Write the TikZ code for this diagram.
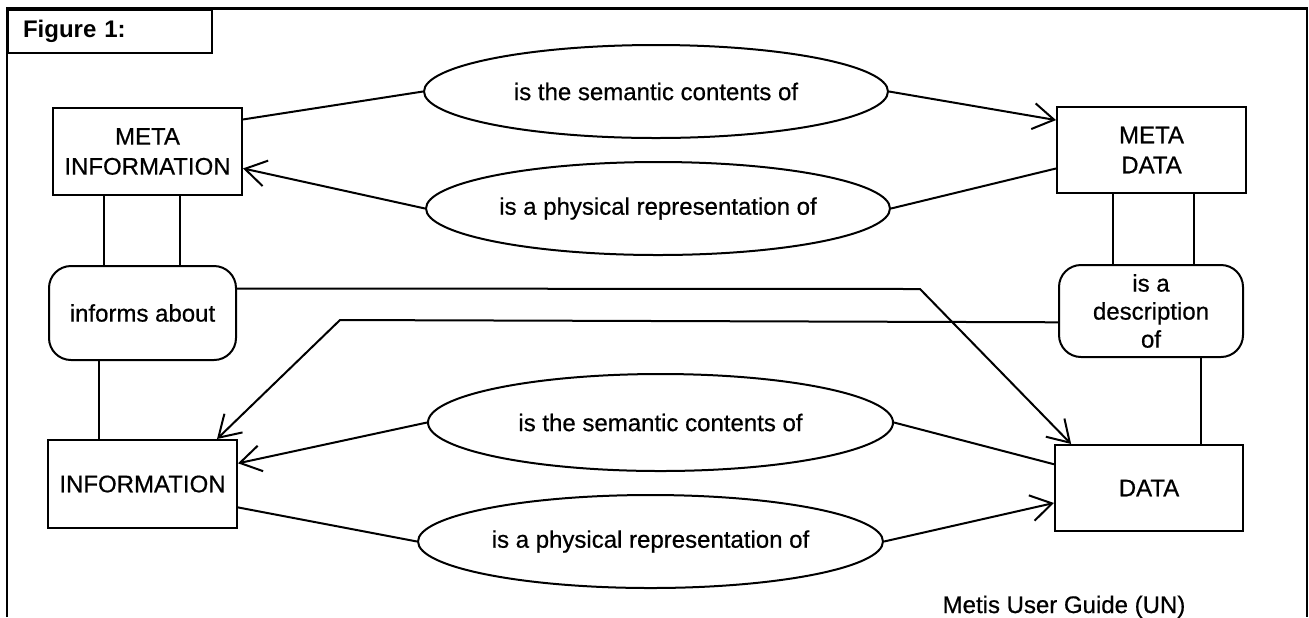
\documentclass[tikz,border=0pt]{standalone}
\usepackage{fontspec}
\setmainfont{Liberation Sans}[UprightFeatures={FakeBold=0.6}]
\usetikzlibrary{shapes.geometric,arrows.meta,calc}
\begin{document}
\begin{tikzpicture}[x=0.5pt,y=-0.5pt,
  every node/.style={font=\fontsize{12}{15}\selectfont},
  conn/.style={line width=1pt},
  arr/.style={conn,-{Straight Barb[length=10.5pt,width=13pt]}},
  entity/.style={draw,line width=1pt,rectangle,inner sep=0pt,align=center},
  relation/.style={draw,line width=1pt,ellipse,inner sep=0pt},
  qualifier/.style={draw,line width=1pt,rectangle,rounded corners=11pt,inner sep=0pt,align=center}]

\useasboundingbox (0,0) rectangle (1309,617);

% outer frame (open at the bottom)
\draw[line width=1.3pt] (7,617) -- (7,8.5) -- (1307,8.5) -- (1307,617);

% caption box
\node[draw,line width=1pt,anchor=north west,minimum width=102pt,minimum height=21.5pt,
      inner xsep=7.5pt,text width=87pt,align=left,
      font=\bfseries\fontsize{12}{15}\selectfont] (fig) at (7,8.5) {Figure 1:};

% entities
\node[entity,minimum width=94.5pt,minimum height=43.5pt] (mi)   at (147.5,151.5) {META\\INFORMATION};
\node[entity,minimum width=94.5pt,minimum height=43pt]   (md)   at (1151.5,150)  {META\\DATA};
\node[entity,minimum width=94.5pt,minimum height=44pt]   (info) at (142.5,484)   {INFORMATION};
\node[entity,minimum width=94pt,minimum height=43pt]     (data) at (1149,488)    {DATA};

% qualifying relations
\node[qualifier,minimum width=93.5pt,minimum height=47pt] (inf) at (142.5,313) {informs about};
\node[qualifier,minimum width=92pt,minimum height=46pt,font=\fontsize{12}{14}\selectfont]
     (desc) at (1151,311) {is a\\description\\of};

% relations
\node[relation,minimum width=232pt,minimum height=46.5pt]   (e1) at (656,91.5)    {is the semantic contents of};
\node[relation,minimum width=232pt,minimum height=46.5pt]   (e2) at (658,208.5)   {is a physical representation of};
\node[relation,minimum width=232.5pt,minimum height=48.5pt] (e3) at (660.5,422.5) {is the semantic contents of};
\node[relation,minimum width=232.5pt,minimum height=46.5pt] (e4) at (650.5,541.5) {is a physical representation of};

% attachment points
\coordinate (mi-a)   at ($(mi.south west)!0.27!(mi.south east)$);
\coordinate (mi-b)   at ($(mi.south west)!0.67!(mi.south east)$);
\coordinate (inf-a)  at ($(inf.south west)!0.27!(inf.south east)$);
\coordinate (md-a)   at ($(md.south west)!0.30!(md.south east)$);
\coordinate (md-b)   at ($(md.south west)!0.72!(md.south east)$);
\coordinate (desc-a) at ($(desc.south west)!0.77!(desc.south east)$);
\coordinate (bendA)  at (920,289);
\coordinate (bendB)  at (340,320);

% meta level
\draw[conn] ($(mi.north east)!0.14!(mi.south east)$) -- (e1.west);
\draw[arr]  (e1.east) -- ($(md.north west)!0.16!(md.south west)$);
\draw[conn] ($(md.north west)!0.71!(md.south west)$) -- (e2.east);
\draw[arr]  (e2.west) -- ($(mi.north east)!0.69!(mi.south east)$);

% vertical links
\draw[conn] (mi-a) -- (mi-a |- inf.north);
\draw[conn] (mi-b) -- (mi-b |- inf.north);
\draw[conn] (inf-a) -- (inf-a |- info.north);
\draw[conn] (md-a) -- (md-a |- desc.north);
\draw[conn] (md-b) -- (md-b |- desc.north);
\draw[conn] (desc-a) -- (desc-a |- data.north);

% crossing links
\draw[arr] ($(inf.north east)!0.245!(inf.south east)$) -- (bendA)
           -- ($(data.north west)!0.09!(data.north east)$);
\draw[arr] ($(desc.north west)!0.62!(desc.south west)$) -- (bendB)
           -- ($(info.north west)!0.89!(info.north east)$);

% base level
\draw[arr]  (e3.west) -- ($(info.north east)!0.27!(info.south east)$);
\draw[conn] (e3.east) -- ($(data.north west)!0.23!(data.south west)$);
\draw[conn] ($(info.north east)!0.76!(info.south east)$) -- (e4.west);
\draw[arr]  (e4.east) -- ($(data.north west)!0.67!(data.south west)$);

% source
\node[anchor=base] (src) at (1064,613) {Metis User Guide (UN)};
\end{tikzpicture}
\end{document}
